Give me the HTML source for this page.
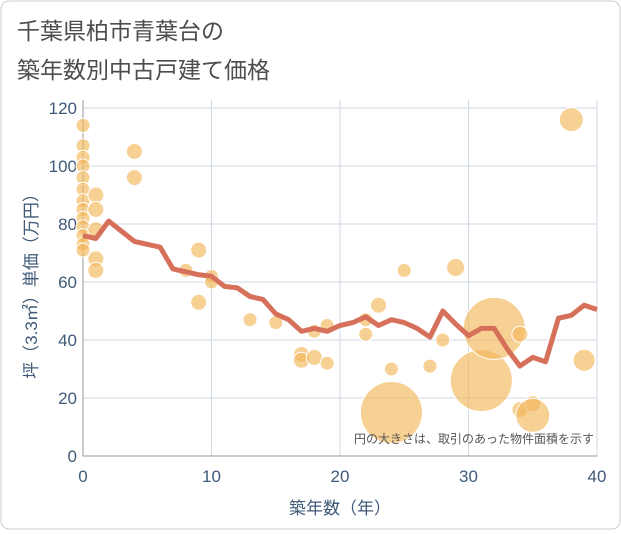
<!DOCTYPE html>
<html><head><meta charset="utf-8"><style>
body{margin:0;background:#fff;font-family:"Liberation Sans","Noto Sans CJK JP",sans-serif}
</style></head><body>
<svg width="621" height="530" xmlns="http://www.w3.org/2000/svg" font-family="Liberation Sans, Noto Sans CJK JP, sans-serif">
<rect x="1" y="1" width="619" height="528" rx="8" fill="#fff" stroke="#ccc"/>
<text x="17" y="39" font-size="23" fill="#4d4d4d">千葉県柏市青葉台の</text>
<text x="17" y="78" font-size="23" fill="#4d4d4d">築年数別中古戸建て価格</text>
<g id="grid"></g>
<g id="bubbles"></g>
<g id="line"></g>
<text x="594" y="443" font-size="12" fill="#555" text-anchor="end">円の大きさは、取引のあった物件面積を示す</text>
<text x="340" y="514" font-size="17" fill="#3f5a78" text-anchor="middle">築年数（年）</text>
<text transform="translate(37,282) rotate(-90)" font-size="17" fill="#3f5a78" text-anchor="middle">坪（3.3㎡）単価（万円）</text>
</svg>
<script>
const xTicks=[0,10,20,30,40];
const yTicks=[0,20,40,60,80,100,120];
const lineYears=[0,1,2,3,4,5,6,7,8,9,10,11,12,13,14,15,16,17,18,19,20,21,22,23,24,25,26,27,28,29,30,31,32,33,34,35,36,37,38,39,40];
const lineValues=[76,75,81,77.5,74,73,72,64.5,63.5,62.5,62,58.5,58,55,54,49,47,43,44,43,45,46,48,45,47,46,44,41,50,45.5,41.5,44,44,37,31,34,32.5,47.5,48.5,52,50.5];
const bubbleYears=[0,0,0,0,0,0,0,0,0,0,0,0,0,1,1,1,1,1,4,4,8,9,9,10,10,13,15,17,17,18,18,19,19,22,22,23,24,24,25,27,28,29,31,32,34,34,35,35,38,39];
const bubbleValues=[114,107,103,100,96,92,88,85,82,79,76,73,71,90,85,78,68,64,105,96,64,71,53,62,60,47,46,35,33,43,34,45,32,47,42,52,15,30,64,31,40,65,26,44,42,16,18,14,116,33];
const bubbleSizes=[7,7,7,7,7,7,7,7,7,7,7,7,7,8,8,8,8,8,8,8,7,8,8,7,7,7,7,8,8,7,8,7,7,7,7,8,31,7,7,7,7,9,31,31,8,8,8,17,12,11];
const X0=83,X1=597,Y0=456,Y1=108;
const sx=v=>X0+(v-0)/(40-0)*(X1-X0);
const sy=v=>Y0-(v-0)/(120-0)*(Y0-Y1);
const NS="http://www.w3.org/2000/svg";
const g=document.getElementById('grid');
function mk(t,a,p){const e=document.createElementNS(NS,t);for(const k in a)e.setAttribute(k,a[k]);p.appendChild(e);return e;}
yTicks.forEach(v=>{
 const l=mk('line',{x1:X0,x2:X1,y1:sy(v),y2:sy(v),stroke:'#d0dae4','stroke-width':1},g);
 
 
 const t=mk('text',{x:X0-6,y:sy(v)+6,'font-size':17,fill:'#3f5a78','text-anchor':'end'},g);
 t.textContent=v;
 
 
});
xTicks.forEach(v=>{
 const l=mk('line',{x1:sx(v),x2:sx(v),y1:Y1-8,y2:Y0,stroke:'#d0dae4','stroke-width':1},g);
 
 
 const t=mk('text',{x:sx(v),y:Y0+26,'font-size':17,fill:'#3f5a78','text-anchor':'middle'},g);
 t.textContent=v;
 
 
});
mk('line',{x1:X0,x2:X0,y1:Y1-8,y2:Y0,stroke:'#999'},g);
mk('line',{x1:X0,x2:X1,y1:Y0,y2:Y0,stroke:'#999'},g);
const b=document.getElementById('bubbles');
bubbleYears.forEach((yr,i)=>{
 const c=mk('circle',{cx:sx(yr),cy:sy(bubbleValues[i]),r:bubbleSizes[i],fill:'#f2b75b','fill-opacity':0.65,stroke:'#fff','stroke-width':1},b);
 
 
});
const pts=lineYears.map((yr,i)=>sx(yr)+','+sy(lineValues[i])).join(' ');
const pl=mk('polyline',{points:pts,fill:'none',stroke:'#d6705a','stroke-width':5,'stroke-linejoin':'round'},document.getElementById('line'));


</script>
</body></html>
